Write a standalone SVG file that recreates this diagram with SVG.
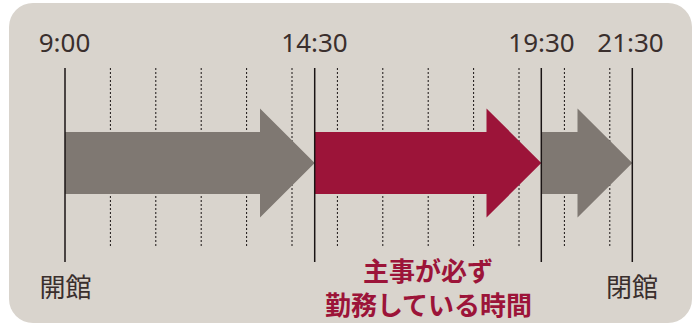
<svg xmlns="http://www.w3.org/2000/svg" width="699" height="326" viewBox="0 0 699 326">
<style>
.t{font-family:"Noto Sans","Open Sans",sans-serif;font-size:26px;fill:#3a2f2d;text-anchor:middle}
.j{font-family:"Noto Sans CJK JP","Noto Sans",sans-serif;font-size:26px;fill:#3a2f2d;text-anchor:middle}
.r{font-family:"Noto Sans CJK JP","Noto Sans",sans-serif;font-size:26px;font-weight:bold;fill:#9c1439;text-anchor:middle}
.s{stroke:#1a1414;stroke-width:1.5}
.d{stroke:#1a1414;stroke-width:1;stroke-dasharray:2 2}
</style>
<rect x="9" y="3" width="683" height="320" rx="24" fill="#d9d4cd"/>
<g id="grid">
<line class="d" x1="110.4" y1="68" x2="110.4" y2="248"/>
<line class="d" x1="155.8" y1="68" x2="155.8" y2="248"/>
<line class="d" x1="201.2" y1="68" x2="201.2" y2="248"/>
<line class="d" x1="246.6" y1="68" x2="246.6" y2="248"/>
<line class="d" x1="292" y1="68" x2="292" y2="248"/>
<line class="d" x1="337.4" y1="68" x2="337.4" y2="248"/>
<line class="d" x1="382.8" y1="68" x2="382.8" y2="248"/>
<line class="d" x1="428.2" y1="68" x2="428.2" y2="248"/>
<line class="d" x1="473.6" y1="68" x2="473.6" y2="248"/>
<line class="d" x1="519" y1="68" x2="519" y2="248"/>
<line class="d" x1="564.4" y1="68" x2="564.4" y2="248"/>
<line class="d" x1="609.8" y1="68" x2="609.8" y2="248"/>
</g>
<g id="arrow-before">
<polygon points="65,132 260,132 260,108.5 314.7,163 260,217.5 260,194 65,194" fill="#7f7872"/>
</g>
<g id="arrow-duty">
<polygon points="314.7,132 486.5,132 486.5,108.5 541.3,163 486.5,217.5 486.5,194 314.7,194" fill="#9c1439"/>
</g>
<g id="arrow-after">
<polygon points="541.3,132 577.5,132 577.5,108.5 632.3,163 577.5,217.5 577.5,194 541.3,194" fill="#7f7872"/>
</g>
<g id="ticks">
<line class="s" x1="65" y1="68" x2="65" y2="262"/>
<line class="s" x1="314.7" y1="68" x2="314.7" y2="262"/>
<line class="s" x1="541.3" y1="68" x2="541.3" y2="262"/>
<line class="s" x1="632.3" y1="68" x2="632.3" y2="262"/>
</g>
<g id="labels">
<text class="t" x="64.5" y="52">9:00</text>
<text class="t" x="314.5" y="52">14:30</text>
<text class="t" x="541.5" y="52">19:30</text>
<text class="t" x="630.5" y="52">21:30</text>
<text class="j" x="65.5" y="297">開館</text>
<text class="j" x="632" y="297">閉館</text>
<text class="r" x="428" y="281">主事が必ず</text>
<text class="r" x="428.5" y="315">勤務している時間</text>
</g>
</svg>
